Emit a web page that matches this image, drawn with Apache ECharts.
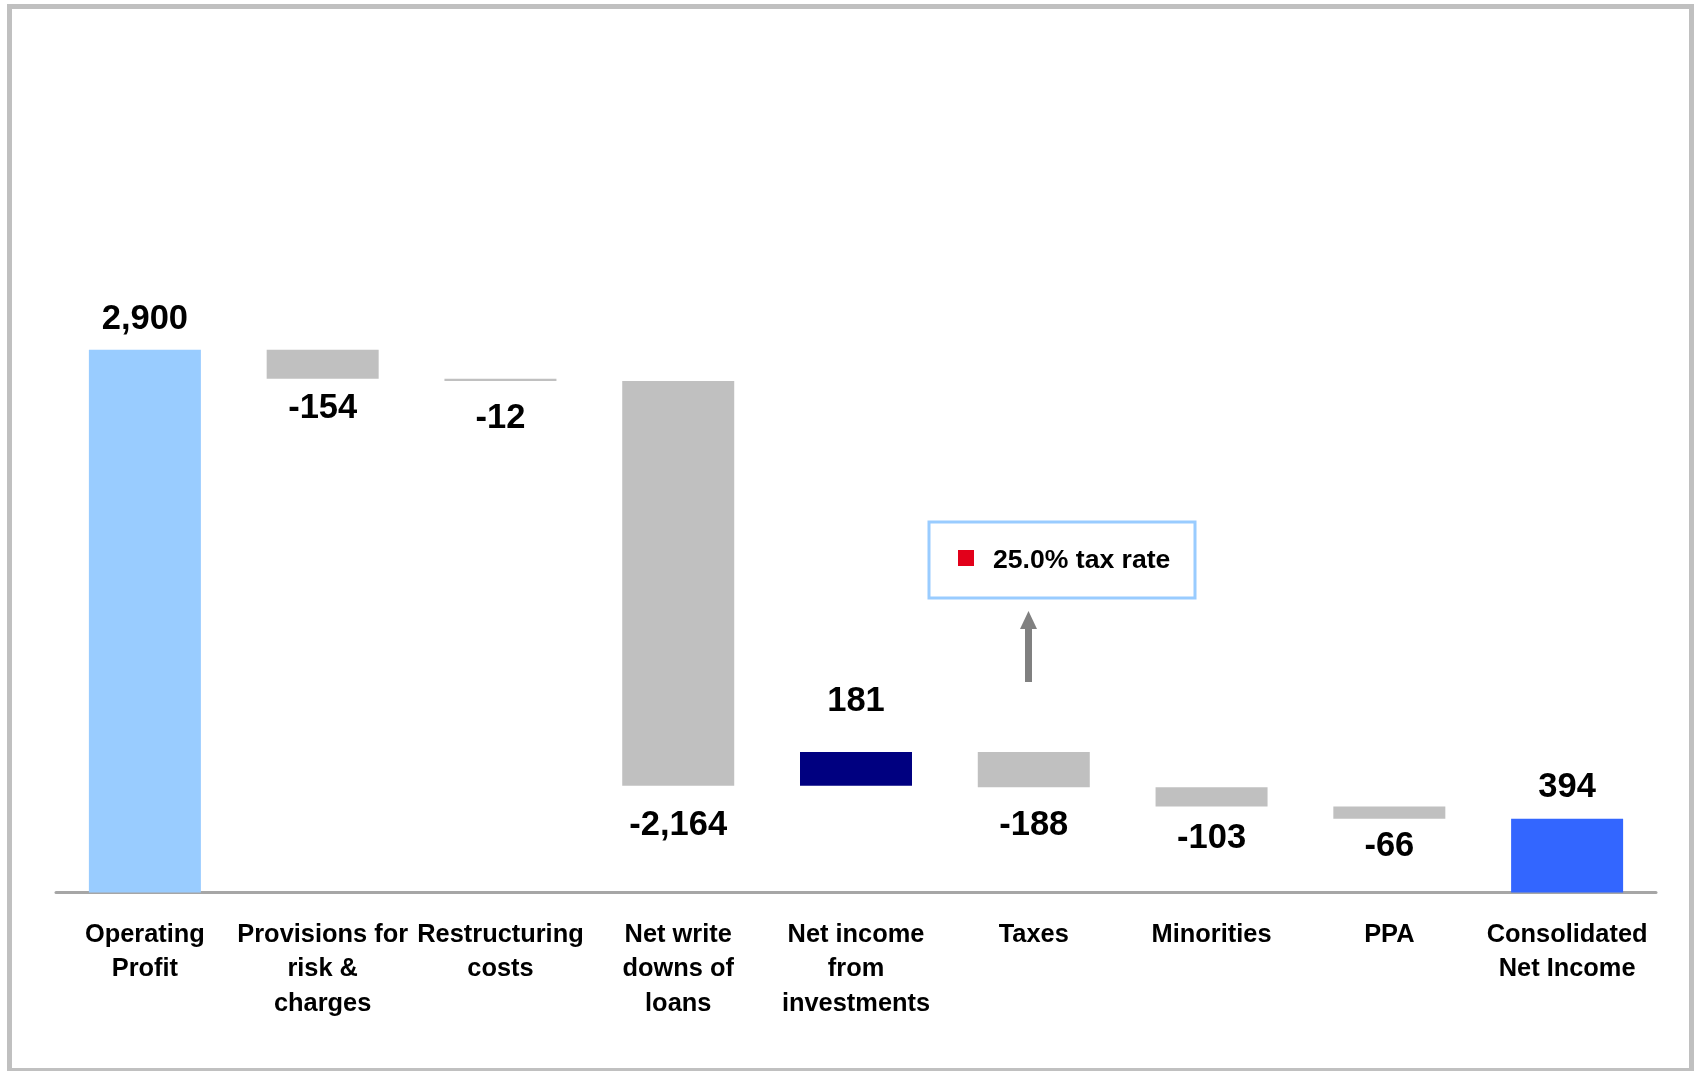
<!DOCTYPE html>
<html>
<head>
<meta charset="utf-8">
<script src="https://cdn.jsdelivr.net/npm/echarts@6/dist/echarts.min.js"></script>
<style>
  html, body { margin: 0; padding: 0; background: #ffffff; }
  #chart { width: 1697px; height: 1071px; }
</style>
</head>
<body>
<div id="chart"></div>
<script>
// Bridge from operating profit to consolidated net income
const categories = [
  'Operating\nProfit',
  'Provisions for\nrisk &\ncharges',
  'Restructuring\ncosts',
  'Net write\ndowns of\nloans',
  'Net income\nfrom\ninvestments',
  'Taxes',
  'Minorities',
  'PPA',
  'Consolidated\nNet Income'
];
const values = [2900, -154, -12, -2164, 181, -188, -103, -66, 394];
const isTotal = [true, false, false, false, false, false, false, false, true];
const taxNote = '25.0% tax rate';

const FONT = "'Liberation Sans', Arial, Helvetica, sans-serif";
const COLORS = { start: '#99CCFF', down: '#C0C0C0', up: '#000080', end: '#3366FF' };
// gap between each bar and its value label
const labelGap = [13, 12, 20, 22, 33, 20.5, 15, 10, 14];

// Invisible base + visible step for each bar of the waterfall
let running = 0;
const base = [];
const step = [];
values.forEach((v, i) => {
  if (isTotal[i]) {
    base.push(0); step.push(v); running = v;
  } else if (v < 0) {
    running += v; base.push(running); step.push(-v);
  } else {
    base.push(running); step.push(v); running += v;
  }
});

function barColor(i) {
  if (isTotal[i]) return i === 0 ? COLORS.start : COLORS.end;
  return values[i] < 0 ? COLORS.down : COLORS.up;
}

const stepData = step.map((h, i) => ({
  value: h,
  itemStyle: { color: barColor(i) },
  label: {
    position: (isTotal[i] || values[i] > 0) ? 'top' : 'bottom',
    distance: labelGap[i]
  }
}));

const chart = echarts.init(document.getElementById('chart'), null, { renderer: 'canvas' });

chart.setOption({
  backgroundColor: '#ffffff',
  animation: false,
  grid: { left: 56, right: 41, top: 144, bottom: 178.5, containLabel: false, outerBoundsMode: 'none' },
  xAxis: {
    type: 'category',
    data: categories,
    axisLine: { show: true, lineStyle: { color: '#A6A6A6', width: 3 } },
    axisTick: { show: false },
    axisLabel: {
      interval: 0,
      margin: 25,
      color: '#000000',
      fontFamily: FONT,
      fontWeight: 'bold',
      fontSize: 25.4,
      lineHeight: 34.6,
      align: 'center'
    }
  },
  yAxis: {
    type: 'value',
    min: 0,
    max: 4000,
    show: false,
    splitLine: { show: false }
  },
  series: [
    {
      name: 'base',
      type: 'bar',
      stack: 'bridge',
      barWidth: '63%',
      itemStyle: { color: 'transparent' },
      emphasis: { disabled: true },
      silent: true,
      data: base
    },
    {
      name: 'step',
      type: 'bar',
      stack: 'bridge',
      barWidth: '63%',
      data: stepData,
      label: {
        show: true,
        color: '#000000',
        fontFamily: FONT,
        fontWeight: 'bold',
        fontSize: 34.5,
        formatter: p => values[p.dataIndex].toLocaleString('en-US')
      }
    }
  ],
  graphic: [
    // frame around the slide
    {
      type: 'rect',
      silent: true,
      shape: { x: 9.5, y: 6.5, width: 1682, height: 1064 },
      style: { fill: 'none', stroke: '#C0C0C0', lineWidth: 5 }
    },
    // tax rate call-out
    {
      type: 'rect',
      silent: true,
      shape: { x: 929, y: 522, width: 266, height: 76 },
      style: { fill: '#ffffff', stroke: '#99CCFF', lineWidth: 3 }
    },
    {
      type: 'rect',
      silent: true,
      shape: { x: 958, y: 550, width: 16, height: 16 },
      style: { fill: '#E2001A' }
    },
    {
      type: 'text',
      silent: true,
      x: 993,
      y: 561,
      style: {
        text: taxNote,
        fill: '#000000',
        font: 'bold 26.6px ' + FONT,
        verticalAlign: 'middle',
        align: 'left'
      }
    },
    // arrow pointing up to the call-out
    {
      type: 'rect',
      silent: true,
      shape: { x: 1025, y: 627, width: 7, height: 55 },
      style: { fill: '#808080' }
    },
    {
      type: 'polygon',
      silent: true,
      shape: { points: [[1028.5, 611], [1020, 629], [1037, 629]] },
      style: { fill: '#808080' }
    }
  ]
});
</script>
</body>
</html>
